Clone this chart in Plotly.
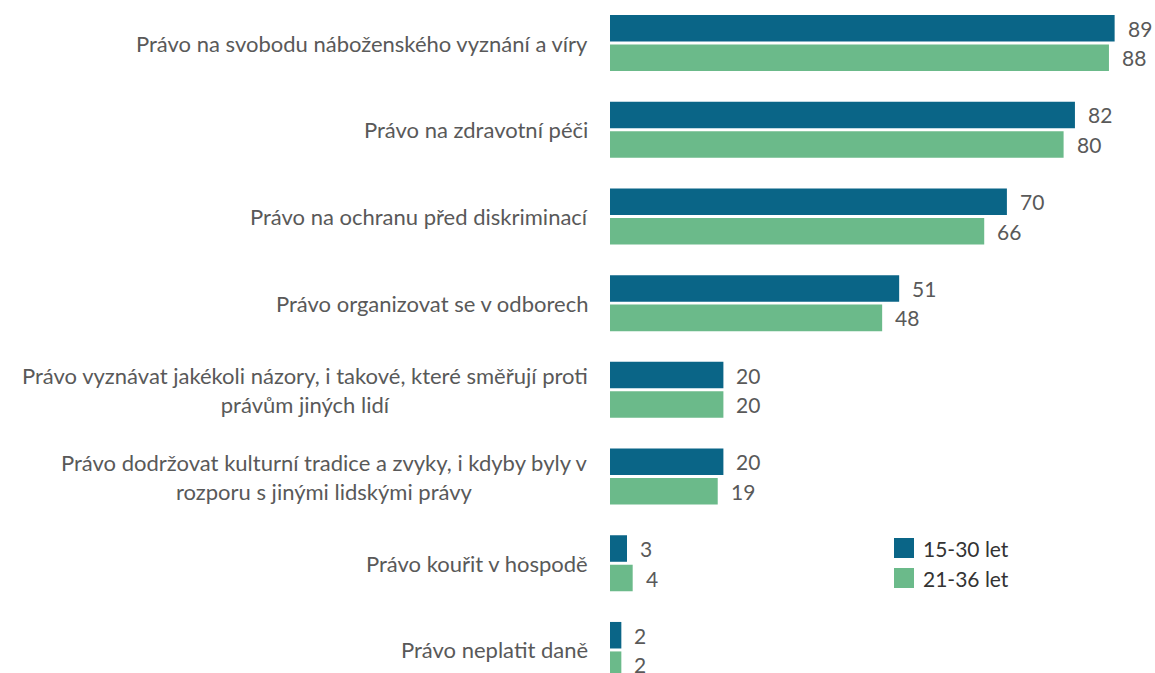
import plotly.graph_objects as go

categories = [
    "Právo na svobodu náboženského vyznání a víry",
    "Právo na zdravotní péči",
    "Právo na ochranu před diskriminací",
    "Právo organizovat se v odborech",
    "Právo vyznávat jakékoli názory, i takové, které směřují proti<br>právům jiných lidí",
    "Právo dodržovat kulturní tradice a zvyky, i kdyby byly v<br>rozporu s jinými lidskými právy",
    "Právo kouřit v hospodě",
    "Právo neplatit daně",
]
series_names = ["15-30 let", "21-36 let"]
values_15_30 = [89, 82, 70, 51, 20, 20, 3, 2]
values_21_36 = [88, 80, 66, 48, 20, 19, 4, 2]

colors = ["#0A6587", "#6BBA8A"]
label_font = "Lato"
BARGAP = 0.32
GROUPGAP = 0.1

W, H = 1155, 673
L = 610

ids = list(range(len(categories)))
fig = go.Figure()
for k, (name, vals, col) in enumerate(zip(series_names, [values_15_30, values_21_36], colors)):
    fig.add_trace(go.Bar(
        y=ids, x=vals, orientation="h", name=name, showlegend=False,
        marker=dict(color=col, line=dict(width=0)),
    ))

annotations = []
slot = (1 - BARGAP) / 2
for k, vals in enumerate([values_15_30, values_21_36]):
    off = (k - 0.5) * slot
    for i, v in enumerate(vals):
        annotations.append(dict(
            x=v, xref="x", xanchor="left", xshift=11,
            y=i + off, yref="y", yanchor="middle",
            text=str(v), showarrow=False,
            font=dict(family=label_font, size=21, color="#595959"),
        ))

for i, c in enumerate(categories):
    annotations.append(dict(
        x=0, xref="paper", xanchor="right", xshift=-20,
        y=i, yref="y", yanchor="middle",
        text=c, showarrow=False, align="center",
        font=dict(family=label_font, size=22, color="#595959"),
    ))

shapes = []
legend_rows_px = [548, 578]
PW = W - L
def px_x(x):
    return (x - L) / PW
def px_y(y):
    return 1 - y / H
for name, col, yc in zip(series_names, colors, legend_rows_px):
    shapes.append(dict(type="rect", xref="paper", yref="paper",
                       x0=px_x(894), x1=px_x(914),
                       y0=px_y(yc + 10), y1=px_y(yc - 10),
                       fillcolor=col, line=dict(width=0)))
    annotations.append(dict(
        x=px_x(921), xref="paper", xanchor="left",
        y=px_y(yc), yref="paper", yanchor="middle",
        text=name, showarrow=False,
        font=dict(family=label_font, size=21, color="#333333"),
    ))

band_px = H / 7.762
y_top = -0.404 - 8 / band_px
fig.update_layout(
    width=W, height=H,
    margin=dict(l=L, r=0, t=0, b=0),
    paper_bgcolor="white", plot_bgcolor="white",
    barmode="group", bargap=BARGAP, bargroupgap=GROUPGAP,
    xaxis=dict(range=[0, 545 / 5.67], visible=False),
    yaxis=dict(range=[y_top + 7.762, y_top], showticklabels=False, showgrid=False,
               zeroline=False, showline=False, ticks=""),
    annotations=annotations,
    shapes=shapes,
    showlegend=False,
)

fig.write_html("out.html", config={"displayModeBar": False},
               post_script="document.body.style.margin='0';document.body.style.overflow='hidden';")
